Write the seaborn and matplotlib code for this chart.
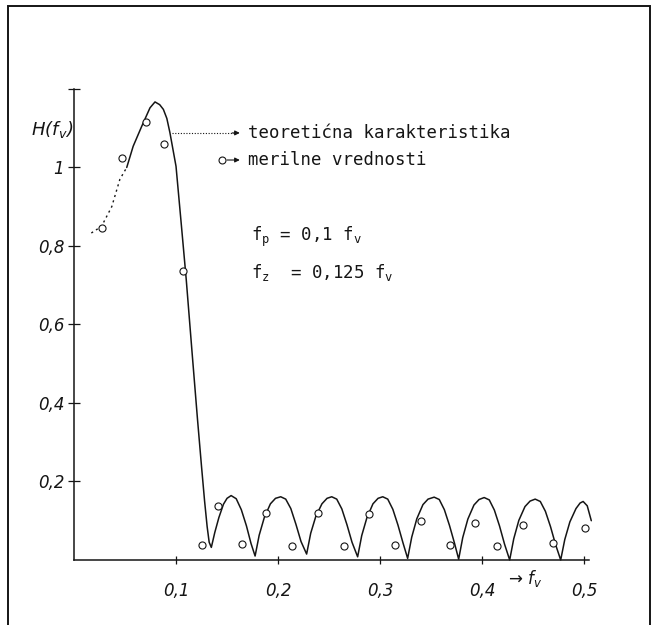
import matplotlib
matplotlib.use("Agg")
import matplotlib.pyplot as plt
import seaborn as sns
import pandas as pd
from matplotlib.patches import Rectangle

# ---- data ----
# theoretical characteristic, dotted start (extrapolated part)
theo_dot_x = [0.017, 0.027, 0.037, 0.045, 0.0517]
theo_dot_y = [0.833, 0.850, 0.900, 0.970, 1.000]

# theoretical characteristic, solid part
theo_x = [0.0517, 0.058, 0.0664, 0.0745, 0.0794, 0.084, 0.0876, 0.091, 0.094, 0.100,
          0.105, 0.110, 0.116, 0.121, 0.125, 0.128, 0.1305, 0.1325,
          0.1346, 0.138, 0.142, 0.1465, 0.150, 0.154, 0.159, 0.164, 0.169, 0.1735,
          0.1775, 0.1815, 0.1865, 0.1925, 0.1975, 0.2026, 0.2075, 0.2125, 0.2175, 0.2225,
          0.228, 0.232, 0.237, 0.243, 0.248, 0.2526, 0.2575, 0.2625, 0.2675, 0.2725,
          0.278, 0.282, 0.287, 0.293, 0.298, 0.3026, 0.3075, 0.3125, 0.3175, 0.3225,
          0.327, 0.331, 0.336, 0.342, 0.347, 0.353, 0.358, 0.363, 0.368, 0.373,
          0.377, 0.381, 0.386, 0.392, 0.397, 0.402, 0.407, 0.412, 0.417, 0.422,
          0.427, 0.431, 0.436, 0.442, 0.447, 0.452, 0.457, 0.462, 0.467, 0.472,
          0.477, 0.481, 0.486, 0.492, 0.496, 0.499, 0.503, 0.507]
theo_y = [1.000, 1.054, 1.105, 1.152, 1.167, 1.160, 1.148, 1.125, 1.089, 1.003,
          0.860, 0.715, 0.520, 0.360, 0.238, 0.150, 0.085, 0.045,
          0.032, 0.070, 0.108, 0.142, 0.157, 0.164, 0.156, 0.128, 0.087, 0.042,
          0.010, 0.063, 0.108, 0.143, 0.157, 0.161, 0.155, 0.131, 0.091, 0.047,
          0.015, 0.068, 0.111, 0.143, 0.157, 0.161, 0.155, 0.130, 0.090, 0.045,
          0.008, 0.062, 0.107, 0.143, 0.157, 0.161, 0.155, 0.129, 0.089, 0.043,
          0.004, 0.058, 0.105, 0.141, 0.155, 0.160, 0.154, 0.128, 0.088, 0.042,
          0.002, 0.057, 0.104, 0.140, 0.154, 0.159, 0.153, 0.127, 0.087, 0.040,
          0.000, 0.054, 0.101, 0.136, 0.150, 0.155, 0.149, 0.124, 0.085, 0.039,
          0.000, 0.052, 0.097, 0.131, 0.145, 0.149, 0.138, 0.100]

# measured values (open circles)
meas_x = [0.027, 0.047, 0.0706, 0.088, 0.107, 0.125, 0.1415, 0.1644, 0.188, 0.2134,
          0.2395, 0.2647, 0.2895, 0.3147, 0.340, 0.3686, 0.393, 0.415, 0.4405, 0.469, 0.501]
meas_y = [0.847, 1.025, 1.117, 1.059, 0.737, 0.038, 0.138, 0.040, 0.120, 0.036,
          0.120, 0.036, 0.117, 0.038, 0.100, 0.038, 0.094, 0.036, 0.088, 0.044, 0.082]

x_ticks = [0.1, 0.2, 0.3, 0.4, 0.5]
x_tick_labels = ["0,1", "0,2", "0,3", "0,4", "0,5"]
y_ticks = [0.2, 0.4, 0.6, 0.8, 1.0, 1.2]
y_tick_labels = ["0,2", "0,4", "0,6", "0,8", "1", ""]

legend_theo = "teoretićna karakteristika"
legend_meas = "merilne vrednosti"
note_fp = "f$_\\mathrm{p}$ = 0,1 f$_\\mathrm{v}$"
note_fz = "f$_\\mathrm{z}$  = 0,125 f$_\\mathrm{v}$"

# ---- styling ----
sns.set_style("white")
plt.rcParams["font.family"] = ["DejaVu Sans"]
plt.rcParams["mathtext.fontset"] = "custom"
plt.rcParams["mathtext.rm"] = "DejaVu Sans Mono"
plt.rcParams["mathtext.it"] = "DejaVu Sans:italic"

INK = "#151515"

fig = plt.figure(figsize=(6.56, 6.25), dpi=100)
ax = fig.add_axes([0.105, 0.0978, 0.8166, 0.7724])
ax.set_facecolor("none")

df_dot = pd.DataFrame({"x": theo_dot_x, "y": theo_dot_y})
df_theo = pd.DataFrame({"x": theo_x, "y": theo_y})
df_meas = pd.DataFrame({"x": meas_x, "y": meas_y})

sns.lineplot(data=df_dot, x="x", y="y", ax=ax, color=INK, lw=1.0,
             linestyle=(0, (1.5, 2.5)), sort=False, estimator=None)
sns.lineplot(data=df_theo, x="x", y="y", ax=ax, color=INK, lw=1.1,
             sort=False, estimator=None)
sns.scatterplot(data=df_meas, x="x", y="y", ax=ax, marker="o", s=26,
                facecolor="white", edgecolor=INK, linewidth=0.8, zorder=3)

ax.set_xlim(-0.005, 0.52)
ax.set_ylim(-0.01, 1.22)

for s in ["top", "right"]:
    ax.spines[s].set_visible(False)
ax.spines["left"].set_position(("data", 0))
ax.spines["bottom"].set_position(("data", 0))
ax.spines["left"].set_bounds(0, 1.2)
ax.spines["bottom"].set_bounds(0, 0.505)
for s in ["left", "bottom"]:
    ax.spines[s].set_color(INK)
    ax.spines[s].set_linewidth(1.1)

ax.set_xticks(x_ticks)
ax.set_xticklabels(x_tick_labels, fontstyle="italic", fontsize=12)
ax.set_yticks(y_ticks)
ax.set_yticklabels(y_tick_labels, fontstyle="italic", fontsize=12)
ax.tick_params(axis="x", bottom=True, direction="inout", length=6, width=0.9,
               colors=INK, pad=13)
ax.tick_params(axis="y", left=True, direction="inout", length=8, width=0.9,
               colors=INK, pad=3)
ax.set_xlabel("")
ax.set_ylabel("")

# axis names
ax.text(-0.021, 1.096, "H(f$_v$)", fontstyle="italic", fontsize=13, color=INK,
        ha="center", va="center", clip_on=False)
ax.text(0.442, -0.046, "→ f$_v$", fontstyle="italic", fontsize=12, color=INK,
        ha="center", va="center", clip_on=False)

# legend-like annotations
mono = "DejaVu Sans Mono"
ax.plot([0.096, 0.158], [1.088, 1.088], color=INK, lw=0.8, linestyle=(0, (1, 1.5)))
ax.annotate("", xy=(0.1625, 1.088), xytext=(0.155, 1.088),
            arrowprops=dict(arrowstyle="-|>", color=INK, lw=0.8,
                            mutation_scale=7, shrinkA=0, shrinkB=0))
ax.text(0.1706, 1.088, legend_theo, family=mono, fontsize=12.5, color=INK,
        ha="left", va="center")
ax.plot([0.145], [1.019], marker="o", ms=5, mfc="white", mec=INK, mew=0.8)
ax.annotate("", xy=(0.1625, 1.019), xytext=(0.150, 1.019),
            arrowprops=dict(arrowstyle="-|>", color=INK, lw=0.8,
                            mutation_scale=7, shrinkA=0, shrinkB=0))
ax.text(0.1706, 1.019, legend_meas, family=mono, fontsize=12.5, color=INK,
        ha="left", va="center")

ax.text(0.1735, 0.823, note_fp, family=mono, fontsize=12.5, color=INK,
        ha="left", va="center")
ax.text(0.1735, 0.733, note_fz, family=mono, fontsize=12.5, color=INK,
        ha="left", va="center")

# outer frame of the scanned figure
fig.patches.append(Rectangle((8 / 656, -0.02), (650 - 8) / 656, 1 - 6 / 625 + 0.02,
                             transform=fig.transFigure, fill=False,
                             edgecolor=INK, linewidth=1.4))

fig.savefig("out.png", dpi=100, facecolor="white")
